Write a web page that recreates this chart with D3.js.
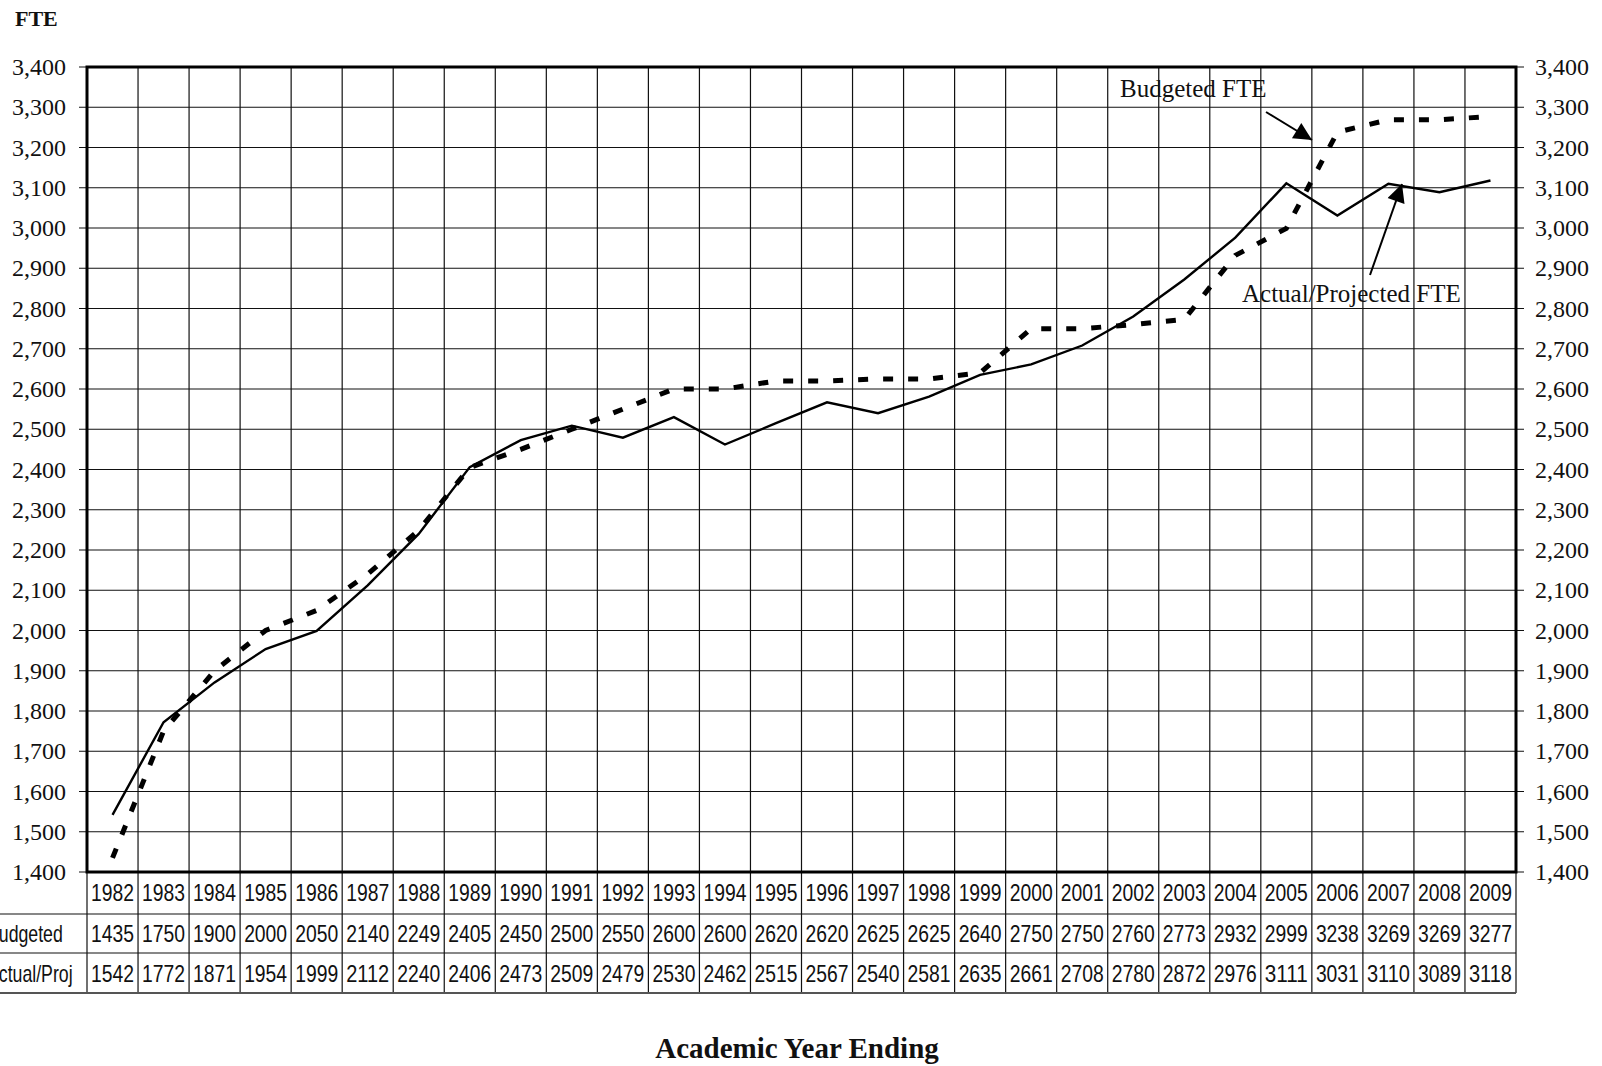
<!DOCTYPE html>
<html>
<head>
<meta charset="utf-8">
<script src="https://cdn.jsdelivr.net/npm/d3@7"></script>
<style>
  html, body { margin: 0; padding: 0; background: #fff; }
  svg { display: block; }
  .serif { font-family: "Liberation Serif", "DejaVu Serif", serif; }
  .narrow { font-family: "Liberation Sans Narrow", "Arial Narrow", "Liberation Sans", sans-serif; }
</style>
</head>
<body>
<svg id="chart" width="1602" height="1066"></svg>
<script>
const years = ["1982","1983","1984","1985","1986","1987","1988","1989","1990","1991","1992","1993","1994","1995","1996","1997","1998","1999","2000","2001","2002","2003","2004","2005","2006","2007","2008","2009"];
const budgeted = [1435,1750,1900,2000,2050,2140,2249,2405,2450,2500,2550,2600,2600,2620,2620,2625,2625,2640,2750,2750,2760,2773,2932,2999,3238,3269,3269,3277];
const actual = [1542,1772,1871,1954,1999,2112,2240,2406,2473,2509,2479,2530,2462,2515,2567,2540,2581,2635,2661,2708,2780,2872,2976,3111,3031,3110,3089,3118];
const yTicks = [1400,1500,1600,1700,1800,1900,2000,2100,2200,2300,2400,2500,2600,2700,2800,2900,3000,3100,3200,3300,3400];
const rowLabels = ["Budgeted", "Actual/Proj"];

const svg = d3.select("#chart");
const L = 87, R = 1516, T = 67, B = 872;
const x = d3.scaleBand().domain(years).range([L, R]).padding(0);
const y = d3.scaleLinear().domain([1400, 3400]).range([B, T]);
const cx = d => x(d) + x.bandwidth() / 2;
const fmt = d3.format(",");

// horizontal gridlines (extend as tick marks both sides)
svg.append("g").selectAll("line").data(yTicks).join("line")
  .attr("x1", L - 8).attr("x2", R + 8)
  .attr("y1", d => y(d)).attr("y2", d => y(d))
  .attr("stroke", "#111").attr("stroke-width", 1.2);

// vertical gridlines (column boundaries), through plot and table
const bounds = years.map(d => x(d)).concat([R]);
svg.append("g").selectAll("line").data(bounds).join("line")
  .attr("x1", d => d).attr("x2", d => d)
  .attr("y1", T).attr("y2", 993)
  .attr("stroke", "#111").attr("stroke-width", 1.2);

// left axis labels
const yl = d3.axisLeft(y).tickValues(yTicks).tickFormat(fmt).tickSize(0).tickPadding(21);
const gl = svg.append("g").attr("transform", `translate(${L},0)`).call(yl);
gl.select(".domain").remove();
gl.selectAll("text").attr("class", "serif").attr("font-size", 24).attr("fill", "#111")
  .attr("font-family", null);

const yr = d3.axisRight(y).tickValues(yTicks).tickFormat(fmt).tickSize(0).tickPadding(19);
const gr = svg.append("g").attr("transform", `translate(${R},0)`).call(yr);
gr.select(".domain").remove();
gr.selectAll("text").attr("class", "serif").attr("font-size", 24).attr("fill", "#111")
  .attr("font-family", null);

// plot border
svg.append("rect").attr("x", L).attr("y", T).attr("width", R - L).attr("height", B - T)
  .attr("fill", "none").attr("stroke", "#000").attr("stroke-width", 3);

// table horizontal lines
const rowLines = [914, 953, 993];
svg.append("g").selectAll("line").data(rowLines).join("line")
  .attr("x1", 0).attr("x2", R)
  .attr("y1", d => d).attr("y2", d => d)
  .attr("stroke", (d, i) => i === 2 ? "#555" : "#111").attr("stroke-width", (d, i) => i === 2 ? 2 : 1.2);

// table text (condensed via textLength)
const tbl = svg.append("g").attr("class", "narrow").attr("font-size", 23).attr("fill", "#111");
tbl.selectAll("text.yr").data(years).join("text").attr("class", "yr")
  .attr("x", d => cx(d)).attr("y", 901).attr("text-anchor", "middle")
  .attr("textLength", 43).attr("lengthAdjust", "spacingAndGlyphs").text(d => d);
tbl.selectAll("text.bu").data(budgeted).join("text").attr("class", "bu")
  .attr("x", (d, i) => cx(years[i])).attr("y", 942).attr("text-anchor", "middle")
  .attr("textLength", 43).attr("lengthAdjust", "spacingAndGlyphs").text(d => d);
tbl.selectAll("text.ac").data(actual).join("text").attr("class", "ac")
  .attr("x", (d, i) => cx(years[i])).attr("y", 982).attr("text-anchor", "middle")
  .attr("textLength", 43).attr("lengthAdjust", "spacingAndGlyphs").text(d => d);
tbl.selectAll("text.rl").data(rowLabels).join("text").attr("class", "rl")
  .attr("transform", (d, i) => `translate(-13,${i === 0 ? 942 : 982}) scale(0.77,1)`)
  .text(d => d);

// lines
const line = d3.line().x(d => cx(d.year)).y(d => y(d.v));
const bData = years.map((yy, i) => ({year: yy, v: budgeted[i]}));
const aData = years.map((yy, i) => ({year: yy, v: actual[i]}));

svg.append("path").datum(bData).attr("d", line)
  .attr("fill", "none").attr("stroke", "#000").attr("stroke-width", 5)
  .attr("stroke-dasharray", "10,15");
svg.append("path").datum(aData).attr("d", line)
  .attr("fill", "none").attr("stroke", "#000").attr("stroke-width", 2.4)
  .attr("stroke-linejoin", "miter");

// annotations
const defs = svg.append("defs");
defs.append("marker").attr("id", "arr").attr("viewBox", "0 0 10 10")
  .attr("refX", 10).attr("refY", 5)
  .attr("markerUnits", "userSpaceOnUse").attr("orient", "auto")
  .attr("markerWidth", 20).attr("markerHeight", 18)
  .append("path").attr("d", "M0,0 L10,5 L0,10 z").attr("fill", "#000");

svg.append("text").attr("class", "serif").attr("font-size", 25).attr("fill", "#111")
  .attr("x", 1120).attr("y", 97).text("Budgeted FTE");
svg.append("line").attr("x1", 1266).attr("y1", 112).attr("x2", 1312).attr("y2", 140)
  .attr("stroke", "#000").attr("stroke-width", 2).attr("marker-end", "url(#arr)");

svg.append("text").attr("class", "serif").attr("font-size", 25).attr("fill", "#111")
  .attr("x", 1242).attr("y", 302).text("Actual/Projected FTE");
svg.append("line").attr("x1", 1370).attr("y1", 275).attr("x2", 1402).attr("y2", 184)
  .attr("stroke", "#000").attr("stroke-width", 2).attr("marker-end", "url(#arr)");

// axis titles
svg.append("text").attr("class", "serif").attr("font-size", 22).attr("font-weight", "bold")
  .attr("fill", "#111").attr("x", 15).attr("y", 26).text("FTE");
svg.append("text").attr("class", "serif").attr("font-size", 29).attr("font-weight", "bold")
  .attr("fill", "#111").attr("x", 797).attr("y", 1058).attr("text-anchor", "middle")
  .text("Academic Year Ending");
</script>
</body>
</html>
